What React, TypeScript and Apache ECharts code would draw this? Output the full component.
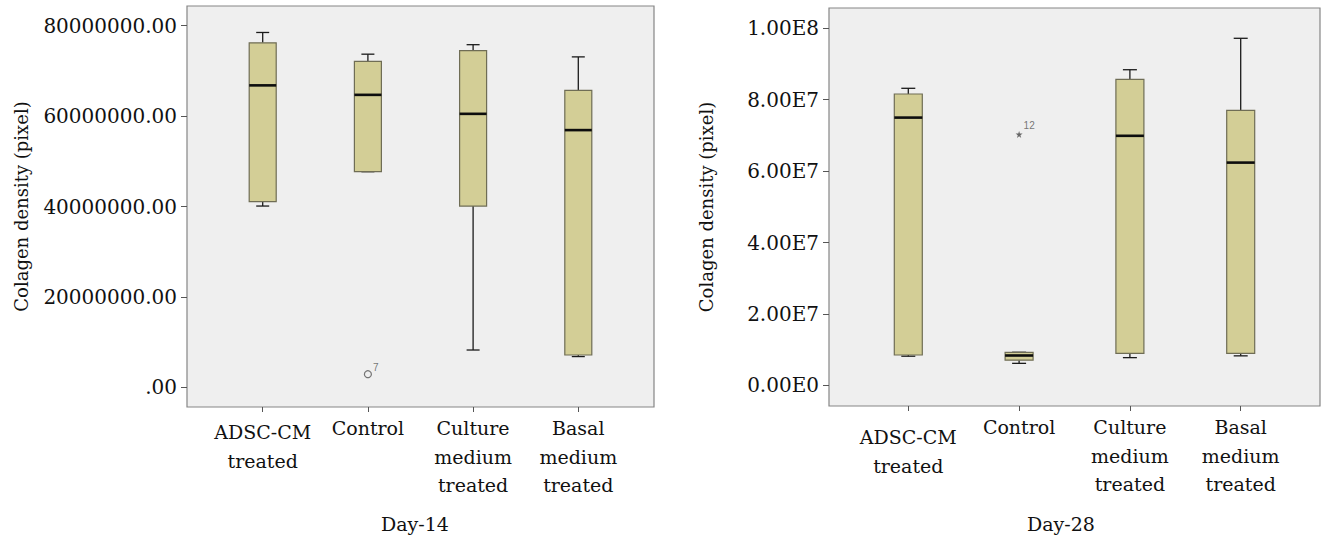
import React, { useEffect, useRef } from "react";
import * as echarts from "echarts";

const categories = ["ADSC-CM\ntreated", "Control", "Culture\nmedium\ntreated", "Basal\nmedium\ntreated"];
const categoryPositions = [0, 1, 2, 3];

// Tick values
const day14Ticks = [0, 20e6, 40e6, 60e6, 80e6];
const day28Ticks = [0, 2e7, 4e7, 6e7, 8e7, 1e8];

// Day-14 box statistics
const day14Min = [40.1e6, 47.7e6, 8.25e6, 6.8e6];
const day14Q1 = [41.1e6, 47.7e6, 40.1e6, 7.15e6];
const day14Median = [66.8e6, 64.7e6, 60.5e6, 56.9e6];
const day14Q3 = [76.2e6, 72.1e6, 74.5e6, 65.7e6];
const day14Max = [78.5e6, 73.7e6, 75.8e6, 73.1e6];
const day14OutlierCategory = ["Control"];
const day14OutlierValue = [2.9e6];
const day14OutlierLabel = ["7"];

// Day-28 box statistics
const day28Min = [8.2e6, 6.2e6, 7.8e6, 8.3e6];
const day28Q1 = [8.54e6, 7.1e6, 9.0e6, 9.0e6];
const day28Median = [75.0e6, 8.4e6, 69.9e6, 62.4e6];
const day28Q3 = [81.6e6, 9.3e6, 85.7e6, 77.0e6];
const day28Max = [83.2e6, 9.3e6, 88.4e6, 97.2e6];
const day28OutlierCategory = ["Control"];
const day28OutlierValue = [70.3e6];
const day28OutlierLabel = ["12"];

const SERIF = "DejaVu Serif";
const SANS = "Liberation Sans";
const BOX_FILL = "#d3ce96";
const BOX_BORDER = "#6f6d55";

function boxRows(mins: number[], q1: number[], med: number[], q3: number[], max: number[]) {
  return categories.map((_, i) => [categoryPositions[i], mins[i], q1[i], med[i], q3[i], max[i]]);
}

function makeRenderItem(boxWidth: number, capWidth: number) {
  return (params: any, api: any) => {
    const c = api.value(0);
    const pMin = api.coord([c, api.value(1)]);
    const pQ1 = api.coord([c, api.value(2)]);
    const pMed = api.coord([c, api.value(3)]);
    const pQ3 = api.coord([c, api.value(4)]);
    const pMax = api.coord([c, api.value(5)]);
    const x = pMed[0];
    const wStyle = { stroke: "#1a1a1a", lineWidth: 1.3 };
    return {
      type: "group",
      children: [
        { type: "line", shape: { x1: x, y1: pMax[1], x2: x, y2: pQ3[1] }, style: wStyle },
        { type: "line", shape: { x1: x, y1: pQ1[1], x2: x, y2: pMin[1] }, style: wStyle },
        { type: "line", shape: { x1: x - capWidth / 2, y1: pMax[1], x2: x + capWidth / 2, y2: pMax[1] }, style: wStyle },
        { type: "line", shape: { x1: x - capWidth / 2, y1: pMin[1], x2: x + capWidth / 2, y2: pMin[1] }, style: wStyle },
        {
          type: "rect",
          shape: { x: x - boxWidth / 2, y: pQ3[1], width: boxWidth, height: Math.max(pQ1[1] - pQ3[1], 0.5) },
          style: { fill: BOX_FILL, stroke: BOX_BORDER, lineWidth: 1.2 },
        },
        {
          type: "line",
          shape: { x1: x - boxWidth / 2, y1: pMed[1], x2: x + boxWidth / 2, y2: pMed[1] },
          style: { stroke: "#0d0d0d", lineWidth: 2.6 },
        },
      ],
    };
  };
}

const fmt14 = (v: number) => (v === 0 ? ".00" : v.toFixed(2));
const fmt28 = (v: number) => v.toExponential(2).replace("e+", "E").replace("e-", "E-");

export default function App() {
  const ref = useRef<HTMLDivElement>(null);
  useEffect(() => {
    if (!ref.current) return;
    const chart = echarts.init(ref.current, null, { renderer: "svg", width: 1322, height: 541 });

    const xAxisFor = (gridIndex: number, min: number, max: number, firstShift: number) => ({
      gridIndex,
      type: "value",
      min,
      max,
      position: "bottom",
      axisLine: { show: false, onZero: false },
      axisTick: { show: true, customValues: categoryPositions, length: 5, lineStyle: { color: "#555", width: 1 } },
      axisLabel: {
        customValues: categoryPositions,
        formatter: (v: number) => {
          const i = Math.round(v);
          const lines = (categories[i] ?? "").split("\n").map((l) => `{t|${l}}`);
          return i === 0 ? `{s| }\n${lines.join("\n")}` : lines.join("\n");
        },
        margin: 7,
        rich: {
          t: { fontFamily: SERIF, fontSize: 19, lineHeight: 28.5, color: "#111" },
          s: { fontSize: 1, lineHeight: firstShift },
        },
        fontFamily: SERIF,
        fontSize: 19,
        lineHeight: 28.5,
        color: "#111",
      },
      splitLine: { show: false },
    });

    const yAxisFor = (gridIndex: number, min: number, max: number, ticks: number[], fmt: any, nameGap: number) => ({
      gridIndex,
      type: "value",
      min,
      max,
      position: "left",
      name: "Colagen density (pixel)",
      nameLocation: "middle",
      nameGap,
      nameTextStyle: { fontFamily: SERIF, fontSize: 18, color: "#111" },
      axisLine: { show: false, onZero: false },
      axisTick: { show: true, customValues: ticks, length: 6, lineStyle: { color: "#555", width: 1 } },
      axisLabel: { customValues: ticks, margin: 10, fontFamily: SERIF, fontSize: 20, color: "#111", formatter: fmt },
      splitLine: { show: false },
    });

    const frameGrid = (left: number, top: number, width: number, height: number) => ({
      left, top, width, height, show: true, backgroundColor: "#efefef", borderColor: "#858585", borderWidth: 1.2,
    });

    const outlierLabel = (offsetY: number) => ({
      show: true,
      position: "right",
      distance: 1,
      offset: [0, offsetY],
      fontFamily: SANS,
      fontSize: 10,
      color: "#555",
    });

    const option: any = {
      animation: false,
      grid: [frameGrid(187, 6, 467, 401), frameGrid(829, 8, 491, 398)],
      xAxis: [xAxisFor(0, -0.7196, 3.7196, 4), xAxisFor(1, -0.7157, 3.7157, 10)],
      yAxis: [
        yAxisFor(0, -4.358e6, 84.358e6, day14Ticks, fmt14, 157),
        yAxisFor(1, -5.739e6, 105.68e6, day28Ticks, fmt28, 114),
      ],
      series: [
        {
          type: "custom",
          xAxisIndex: 0,
          yAxisIndex: 0,
          encode: { x: 0, y: [1, 2, 3, 4, 5] },
          renderItem: makeRenderItem(27, 13),
          data: boxRows(day14Min, day14Q1, day14Median, day14Q3, day14Max),
        },
        {
          type: "scatter",
          xAxisIndex: 0,
          yAxisIndex: 0,
          symbol: "circle",
          symbolSize: 7,
          itemStyle: { color: "rgba(0,0,0,0)", borderColor: "#555", borderWidth: 1.2 },
          label: { ...outlierLabel(-7), formatter: (p: any) => day14OutlierLabel[p.dataIndex] },
          data: day14OutlierCategory.map((c, i) => [categories.indexOf(c), day14OutlierValue[i]]),
        },
        {
          type: "custom",
          xAxisIndex: 1,
          yAxisIndex: 1,
          encode: { x: 0, y: [1, 2, 3, 4, 5] },
          renderItem: makeRenderItem(28, 14),
          data: boxRows(day28Min, day28Q1, day28Median, day28Q3, day28Max),
        },
        {
          type: "scatter",
          xAxisIndex: 1,
          yAxisIndex: 1,
          symbol: "path://M50,0 L61,35 L98,35 L68,57 L79,91 L50,70 L21,91 L32,57 L2,35 L39,35 Z",
          symbolSize: 7,
          itemStyle: { color: "#444" },
          label: { ...outlierLabel(-9), formatter: (p: any) => day28OutlierLabel[p.dataIndex] },
          data: day28OutlierCategory.map((c, i) => [categories.indexOf(c), day28OutlierValue[i]]),
        },
      ],
      graphic: [
        {
          type: "text",
          x: 415,
          y: 524,
          style: { text: "Day-14", fontFamily: SERIF, fontSize: 19, fill: "#111", textAlign: "center", textVerticalAlign: "middle" },
        },
        {
          type: "text",
          x: 1061,
          y: 524,
          style: { text: "Day-28", fontFamily: SERIF, fontSize: 19, fill: "#111", textAlign: "center", textVerticalAlign: "middle" },
        },
      ],
    };
    chart.setOption(option);
    return () => chart.dispose();
  }, []);
  return (
    <div
      ref={ref}
      style={{ position: "absolute", left: 0, top: 0, width: 1322, height: 541, background: "#fff" }}
    />
  );
}
